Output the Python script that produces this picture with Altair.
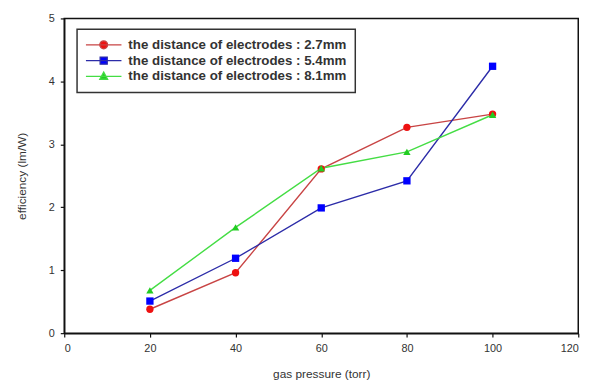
import altair as alt
import pandas as pd

pressure = [20, 40, 60, 80, 100]
series_names = [
    "the distance of electrodes : 2.7mm",
    "the distance of electrodes : 5.4mm",
    "the distance of electrodes : 8.1mm",
]
eff_27 = [0.38, 0.96, 2.61, 3.27, 3.48]
eff_54 = [0.51, 1.19, 1.99, 2.42, 4.24]
eff_81 = [0.68, 1.68, 2.62, 2.88, 3.47]

line_colors = ["#c84444", "#2c2ca8", "#44dd44"]
marker_colors = ["#ee1111", "#0000ff", "#22cc22"]
shapes = ["circle", "square", "triangle-up"]
legend_paths = [
    "M-1,0H1M-0.22,0A0.22,0.22 0 1,0 0.22,0A0.22,0.22 0 1,0 -0.22,0Z",
    "M-1,0H1M-0.2,-0.2H0.2V0.2H-0.2Z",
    "M-1,0H1M0,-0.24L0.22,0.16L-0.22,0.16Z",
]

rows = []
for name, vals in zip(series_names, [eff_27, eff_54, eff_81]):
    for p, v in zip(pressure, vals):
        rows.append({"series": name, "pressure": p, "eff": v})
df = pd.DataFrame(rows)

FONT = "Liberation Sans"

x = alt.X("pressure:Q", title="gas pressure (torr)",
          scale=alt.Scale(domain=[0, 120], nice=False),
          axis=alt.Axis(values=[0, 20, 40, 60, 80, 100, 120], grid=False))
y = alt.Y("eff:Q", title="efficiency (lm/W)",
          scale=alt.Scale(domain=[0, 5], nice=False),
          axis=alt.Axis(values=[0, 1, 2, 3, 4, 5], grid=False))

base = alt.Chart(df)

layers = []
for name, lc in zip(series_names, line_colors):
    layers.append(
        base.transform_filter(alt.datum.series == name)
        .mark_line(strokeWidth=1.4, color=lc)
        .encode(x=x, y=y)
    )
for name, col, shp in zip(series_names, marker_colors, shapes):
    layers.append(
        base.transform_filter(alt.datum.series == name)
        .mark_point(filled=True, shape=shp, size=55, color=col, opacity=1)
        .encode(x=x, y=y)
    )

legend_layer = base.transform_filter("false").mark_point(filled=True, opacity=1, strokeWidth=1.3).encode(
    x=x, y=y,
    fill=alt.Fill("series:N", scale=alt.Scale(domain=series_names, range=marker_colors),
                  legend=alt.Legend(title=None)),
    stroke=alt.Stroke("series:N", scale=alt.Scale(domain=series_names, range=line_colors),
                      legend=alt.Legend(title=None)),
    shape=alt.Shape("series:N", scale=alt.Scale(domain=series_names, range=legend_paths),
                    legend=alt.Legend(title=None)),
)
layers.append(legend_layer)

chart = alt.layer(*layers).properties(
    width=521, height=319,
    autosize=alt.AutoSizeParams(type="none"),
    padding={"left": 57, "top": 8, "right": 19, "bottom": 53},
).configure_view(
    stroke="#111111", strokeWidth=1.5
).configure_axis(
    labelFont=FONT, titleFont=FONT, labelFontSize=11, titleFontSize=12,
    labelColor="#333333", titleColor="#333333", titleFontWeight="normal",
    domainColor="#111111", domainWidth=1.5, tickColor="#111111", tickSize=4, tickWidth=1.2,
    labelPadding=6,
).configure_axisX(titlePadding=15).configure_axisY(titlePadding=20).configure_legend(
    orient="none", legendX=13, legendY=11,
    strokeColor="#333333", strokeWidth=1.5, fillColor="white",
    padding=8, labelFont=FONT, labelFontSize=13.5, labelColor="#333333",
    labelFontWeight="bold", labelLimit=400,
    symbolSize=1296, rowPadding=0, labelOffset=6, clipHeight=15.5,
    symbolStrokeWidth=1.3,
)

chart.save("out.html", embed_options={"renderer": "svg", "actions": False})
